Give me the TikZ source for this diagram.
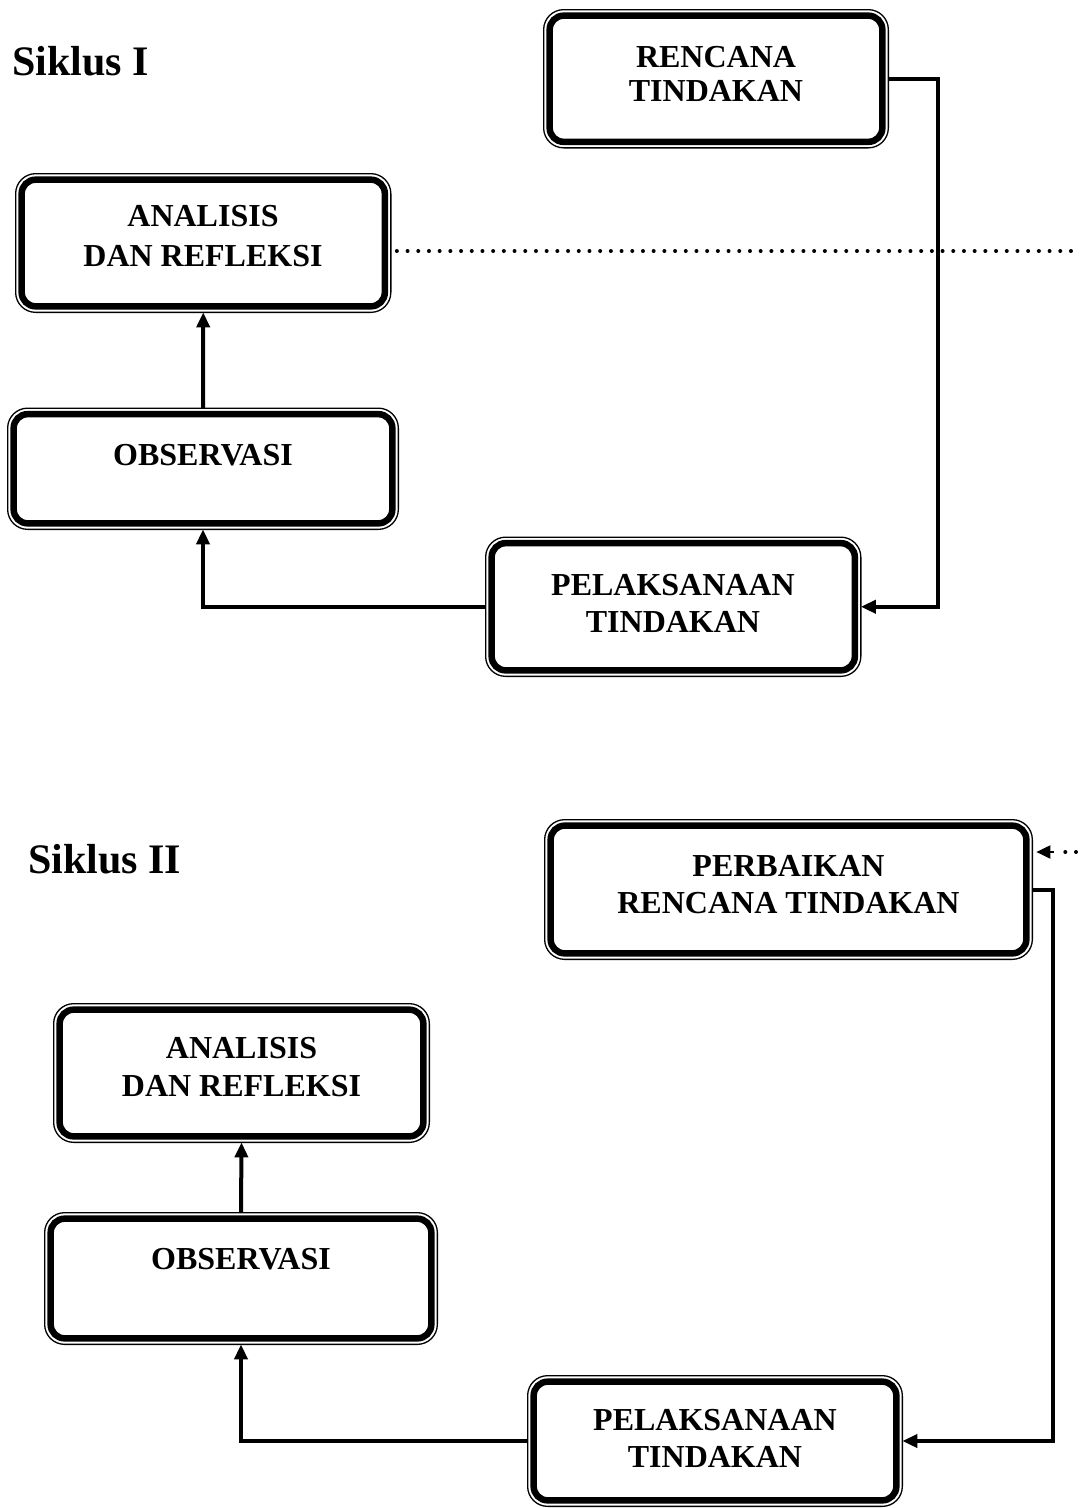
\documentclass[tikz,border=0pt]{standalone}
\usepackage{fontspec}
\setmainfont{Liberation Serif}
\usetikzlibrary{arrows.meta}
\begin{document}
\begin{tikzpicture}[x=1pt,y=-1pt,
  boxo/.style={draw, line width=1.3pt, rounded corners=20pt, inner sep=0pt, outer sep=0pt},
  boxi/.style={draw, line width=6.5pt, rounded corners=14pt},
  txt/.style={font=\fontsize{32}{36}\selectfont\bfseries, anchor=base, inner sep=0pt},
  ttl/.style={font=\fontsize{42}{48}\selectfont\bfseries, anchor=base west, inner sep=0pt},
  conn/.style={line width=4pt, -{Triangle[length=15pt,width=13pt]}},
  dots/.style={line width=4pt, line cap=round, dash pattern=on 0pt off 10.7pt}
]
\useasboundingbox (0,0) rectangle (1081,1508);
% box macro: name, x1,y1,x2,y2
\newcommand{\mybox}[5]{%
  \node[boxo, minimum width={#4-#2-1.3pt}, minimum height={#5-#3-1.3pt}] (#1) at ({(#2+#4)/2},{(#3+#5)/2}) {};
  \draw[boxi] ([shift={(6pt,6pt)}]#1.south west) rectangle ([shift={(-6pt,-6pt)}]#1.north east);
}
\mybox{rI}{543}{9}{889}{148.5}
\mybox{aI}{15}{173}{391.5}{313}
\mybox{oI}{7}{407.5}{399}{530}
\mybox{pI}{485}{536.5}{861.5}{677}
\mybox{pbII}{544}{819}{1033}{960}
\mybox{aII}{53}{1003}{430}{1143}
\mybox{oII}{44}{1212}{438}{1345}
\mybox{pII}{527}{1375}{903}{1507}

% titles
\node[ttl] (s1) at (12,75) {Siklus I};
\node[ttl] (s2) at (28,873) {Siklus II};

% texts
\node[txt] (t1a) at (716,67) {RENCANA};
\node[txt] (t1b) at (716,101) {TINDAKAN};
\node[txt] (t2a) at (203,226.7) {ANALISIS};
\node[txt] (t2b) at (203,266.7) {DAN REFLEKSI};
\node[txt] (t3) at (203,465) {OBSERVASI};
\node[txt] (t4a) at (673,595) {PELAKSANAAN};
\node[txt] (t4b) at (673,632) {TINDAKAN};
\node[txt] (t5a) at (788.5,876) {PERBAIKAN};
\node[txt] (t5b) at (788.5,913) {RENCANA TINDAKAN};
\node[txt] (t6a) at (241.5,1058) {ANALISIS};
\node[txt] (t6b) at (241.5,1096) {DAN REFLEKSI};
\node[txt] (t7) at (241,1269) {OBSERVASI};
\node[txt] (t8a) at (715,1430) {PELAKSANAAN};
\node[txt] (t8b) at (715,1467) {TINDAKAN};

% connectors cycle I
\draw[conn] (rI.east) -- (938,0 |- rI.east) -- (938,0 |- pI.east) -- (pI.east);
\draw[conn] (pI.west) -| (oI.south);
\draw[conn] (oI.north) -- (aI.south);
\coordinate (dI) at (1081,251);
\draw[dots] (aI.east |- dI) ++(6,0) -- (dI);

% connectors cycle II
\coordinate (dII) at (1076,852);
\draw[dots] (dII) -- (1064,852);
\draw[line width=2pt, -{Triangle[length=14pt,width=13pt]}] (1054,852) -- ([xshift=4pt]pbII.east |- dII);
\draw[conn] (pbII.east) -- (1053,0 |- pbII.east) -- (1053,0 |- pII.east) -- (pII.east);
\draw[conn] (pII.west) -| (oII.south);
\draw[conn] (oII.north) -- (aII.south);
\end{tikzpicture}
\end{document}
